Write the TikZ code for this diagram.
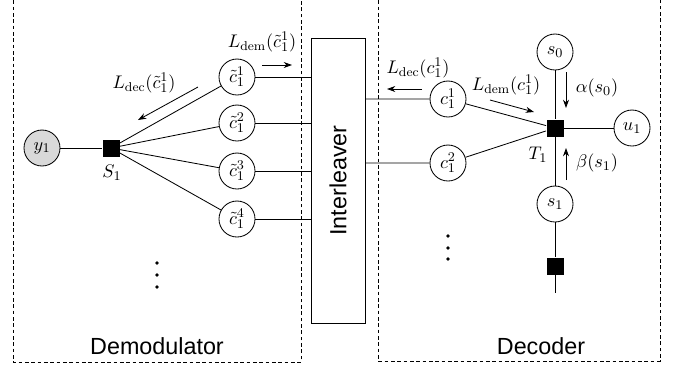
\documentclass[tikz,border=0pt]{standalone}
\usepackage{fontspec}
\newfontfamily\blockfont{Liberation Sans}
\usetikzlibrary{arrows.meta,positioning}

\begin{document}
\begin{tikzpicture}[x=0.6pt,y=-0.6pt,>={Stealth[length=5pt,width=3.6pt]},line width=0.5pt,
      every node/.style={font=\fontsize{11}{13}\selectfont},
      var/.style={circle,draw,minimum size=21.6pt,inner sep=0pt},
      fac/.style={rectangle,fill=black,minimum size=10.2pt,inner sep=0pt},
      frame/.style={draw,line width=0.4pt,dash pattern=on 2.2pt off 1.6pt},
      blocktext/.style={font=\blockfont\fontsize{14}{16}\selectfont}]
      \useasboundingbox (0,0) rectangle (675,368);
      % dashed frames
      \draw[frame] (13,-6) rectangle (301,362);
      \draw[frame] (378,-6) rectangle (660,361);
      \node[blocktext] (demod) at (157,346) {Demodulator};
      \node[blocktext] (dec) at (541,346) {Decoder};
      % interleaver
      \node[draw,minimum width=32.4pt,minimum height=171pt,inner sep=0pt] (ilv) at (338,180.5) {};
      \node[blocktext,rotate=90] at (ilv.center) {Interleaver};
      % demodulator side
      \node[var,fill=gray!30] (y1) at (42,148) {$y_1$};
      \node[fac] (S1) at (111,148) {};
      \node (S1lab) at (112,173) {$S_1$};
      \foreach \i/\y in {1/77,2/123,3/171,4/219} {
        \node[var] (ct\i) at (237,\y) {$\tilde{c}_1^{\i}$};
        \draw (S1) -- (ct\i);
        \draw (ct\i) -- (ct\i -| ilv.west);
      }
      \draw (y1) -- (S1);
      \foreach \y in {263,275,287} \fill (157,\y) circle (1.8);
      % decoder side
      \node[var] (c1) at (448,99) {$c_1^1$};
      \node[var] (c2) at (448,163) {$c_1^2$};
      \node[fac] (T1) at (555,128) {};
      \node (T1lab) at (538,155) {$T_1$};
      \node[var] (s0) at (555,52) {$s_0$};
      \node[var] (s1) at (555,204) {$s_1$};
      \node[var] (u1) at (632,128) {$u_1$};
      \node[fac] (T2) at (555,266) {};
      \coordinate (tail) at (555,293);
      \draw (c1 -| ilv.east) -- (c1) -- (T1);
      \draw (c2 -| ilv.east) -- (c2) -- (T1);
      \draw (s0) -- (T1) -- (u1);
      \draw (T1) -- (s1) -- (T2) -- (tail);
      \foreach \y in {236,248,259} \fill (448,\y) circle (1.8);
      % messages
      \coordinate (a1) at (262,65); \coordinate (a2) at (292,65);
      \draw[->] (a1) -- (a2);
      \node (Ldemt) at (262,42) {$L_{\mathrm{dem}}(\tilde{c}_1^1)$};
      \coordinate (b1) at (198,87); \coordinate (b2) at (138,120);
      \draw[->] (b1) -- (b2);
      \node (Ldect) at (144,83) {$L_{\mathrm{dec}}(\tilde{c}_1^1)$};
      \coordinate (d1) at (422,89); \coordinate (d2) at (387,89);
      \draw[->] (d1) -- (d2);
      \node (Ldec) at (418,68) {$L_{\mathrm{dec}}(c_1^1)$};
      \coordinate (e1) at (490,100); \coordinate (e2) at (534,112);
      \draw[->] (e1) -- (e2);
      \node (Ldem) at (506,85) {$L_{\mathrm{dem}}(c_1^1)$};
      \coordinate (f1) at (566,72); \coordinate (f2) at (566,108);
      \draw[->] (f1) -- (f2);
      \node (alpha) at (597,88) {$\alpha(s_0)$};
      \coordinate (g1) at (566,180); \coordinate (g2) at (566,148);
      \draw[->] (g1) -- (g2);
      \node (beta) at (597,163) {$\beta(s_1)$};
    \end{tikzpicture}
\end{document}
